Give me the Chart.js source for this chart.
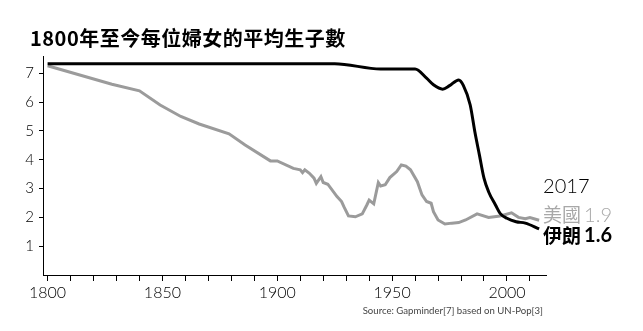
<!DOCTYPE html>
<html>
<head>
<meta charset="utf-8">
<script src="https://cdn.jsdelivr.net/npm/chart.js@4"></script>
<style>
  html, body { margin: 0; padding: 0; background: #fff; }
  #wrap { width: 643px; height: 331px; }
</style>
</head>
<body>
<div id="wrap"><canvas id="tfr-chart"></canvas></div>
<script>
// Total fertility rate (births per woman), USA
const usYears = [1800, 1828, 1840, 1849, 1858, 1866, 1879, 1886, 1897, 1900, 1907, 1910, 1911, 1912, 1914, 1916, 1917,
  1919, 1920, 1922, 1926, 1928, 1929, 1931, 1934, 1937, 1939, 1940, 1942, 1944, 1945, 1947, 1949, 1952, 1954, 1956,
  1958, 1961, 1963, 1965, 1967, 1968, 1970, 1973, 1976, 1979, 1982, 1987, 1992, 1997, 2002, 2005, 2008, 2010, 2014];
const usTfr = [7.26, 6.62, 6.39, 5.90, 5.50, 5.24, 4.90, 4.51, 3.96, 3.96, 3.70, 3.65, 3.55, 3.65, 3.53, 3.36, 3.18,
  3.41, 3.21, 3.15, 2.72, 2.55, 2.37, 2.05, 2.02, 2.12, 2.43, 2.60, 2.47, 3.21, 3.09, 3.13, 3.38, 3.59, 3.82, 3.78,
  3.65, 3.24, 2.78, 2.55, 2.49, 2.20, 1.91, 1.77, 1.80, 1.82, 1.91, 2.12, 2.00, 2.05, 2.16, 2.00, 1.95, 1.99, 1.9];

// Total fertility rate, Iran
const iranYears = [1800, 1925, 1945, 1960, 1965, 1968, 1972, 1975, 1979, 1981, 1984, 1986, 1988, 1990, 1992, 1995,
  1997, 2000, 2004, 2008, 2014];
const iranTfr = [7.33, 7.33, 7.15, 7.15, 6.83, 6.60, 6.45, 6.57, 6.77, 6.58, 5.90, 4.98, 4.17, 3.36, 2.89, 2.43,
  2.14, 1.97, 1.85, 1.80, 1.6];

const yTicks = [1, 2, 3, 4, 5, 6, 7];
const xTicks = [];
for (let yr = 1800; yr <= 2010; yr += 10) xTicks.push(yr);

const titleText = '1800年至今每位婦女的平均生子數';
const endYearText = '2017';
const usName = '美國';
const iranName = '伊朗';
const sourceText = 'Source: Gapminder[7] based on UN-Pop[3]';

const thinFont = 'Lato';
const cjkFont = '"Noto Sans CJK TC"';

const toPoints = (xs, ys) => xs.map((x, i) => ({ x: x, y: ys[i] }));

// title, labels at the right end of the lines, source note
const annotations = {
  id: 'annotations',
  afterDraw(chart) {
    const { ctx, chartArea, scales: { x, y } } = chart;
    const usLast = usTfr[usTfr.length - 1];
    const irLast = iranTfr[iranTfr.length - 1];
    const lx = x.getPixelForValue(usYears[usYears.length - 1]) + 4;
    const usY = y.getPixelForValue(usLast) - 5;
    const irY = y.getPixelForValue(irLast) + 7;

    ctx.save();
    ctx.textBaseline = 'middle';
    ctx.textAlign = 'left';

    ctx.fillStyle = '#000';
    ctx.font = 'bold 20px ' + cjkFont;
    ctx.letterSpacing = '0.5px';
    ctx.fillText(titleText, 30, 38);
    ctx.letterSpacing = '0px';

    ctx.font = '300 20px ' + thinFont;
    ctx.fillText(endYearText, lx, usY - 29);

    ctx.fillStyle = '#a8a8a8';
    ctx.font = '19px ' + cjkFont;
    ctx.fillText(usName, lx, usY);
    let w = ctx.measureText(usName).width;
    ctx.font = '300 20px ' + thinFont;
    ctx.fillText(usLast.toFixed(1), lx + w + 3, usY);

    ctx.fillStyle = '#000';
    ctx.font = 'bold 19px ' + cjkFont;
    ctx.fillText(iranName, lx, irY);
    w = ctx.measureText(iranName).width;
    ctx.font = 'bold 20px ' + thinFont;
    ctx.fillText(irLast.toFixed(1), lx + w + 3, irY);

    ctx.fillStyle = '#444';
    ctx.font = '9.6px ' + thinFont;
    ctx.textAlign = 'right';
    ctx.fillText(sourceText, chartArea.right - 3, 311);
    ctx.restore();
  }
};

new Chart(document.getElementById('tfr-chart'), {
  type: 'line',
  data: {
    datasets: [{
      label: 'Iran',
      data: toPoints(iranYears, iranTfr),
      borderColor: '#000',
      borderWidth: 3,
      pointRadius: 0,
      cubicInterpolationMode: 'monotone'
    }, {
      label: 'USA',
      data: toPoints(usYears, usTfr),
      borderColor: '#9b9b9b',
      borderWidth: 3,
      pointRadius: 0,
      tension: 0
    }]
  },
  options: {
    responsive: true,
    maintainAspectRatio: false,
    animation: false,
    layout: { padding: { left: 15, right: 97, top: 56, bottom: 0 } },
    plugins: {
      legend: { display: false },
      tooltip: { enabled: false },
      title: { display: false }
    },
    scales: {
      x: {
        type: 'linear',
        min: 1798,
        max: 2017,
        afterBuildTicks: s => { s.ticks = xTicks.map(v => ({ value: v })); },
        afterFit: s => { s.height = 56; },
        grid: { drawOnChartArea: false, tickLength: 6, color: '#000' },
        border: { color: '#000', width: 1 },
        ticks: {
          autoSkip: false,
          maxRotation: 0,
          padding: 2,
          color: '#000',
          font: { family: thinFont, weight: '300', size: 16 },
          callback: v => (v % 50 === 0 ? String(v) : '')
        }
      },
      y: {
        min: 0,
        max: 7.6,
        afterBuildTicks: s => { s.ticks = yTicks.map(v => ({ value: v })); },
        afterFit: s => { s.width = 28; },
        grid: { drawOnChartArea: false, tickLength: 4, color: '#000' },
        border: { color: '#000', width: 1 },
        ticks: {
          padding: 5,
          color: '#000',
          font: { family: thinFont, weight: '300', size: 15 }
        }
      }
    }
  },
  plugins: [annotations]
});
</script>
</body>
</html>
